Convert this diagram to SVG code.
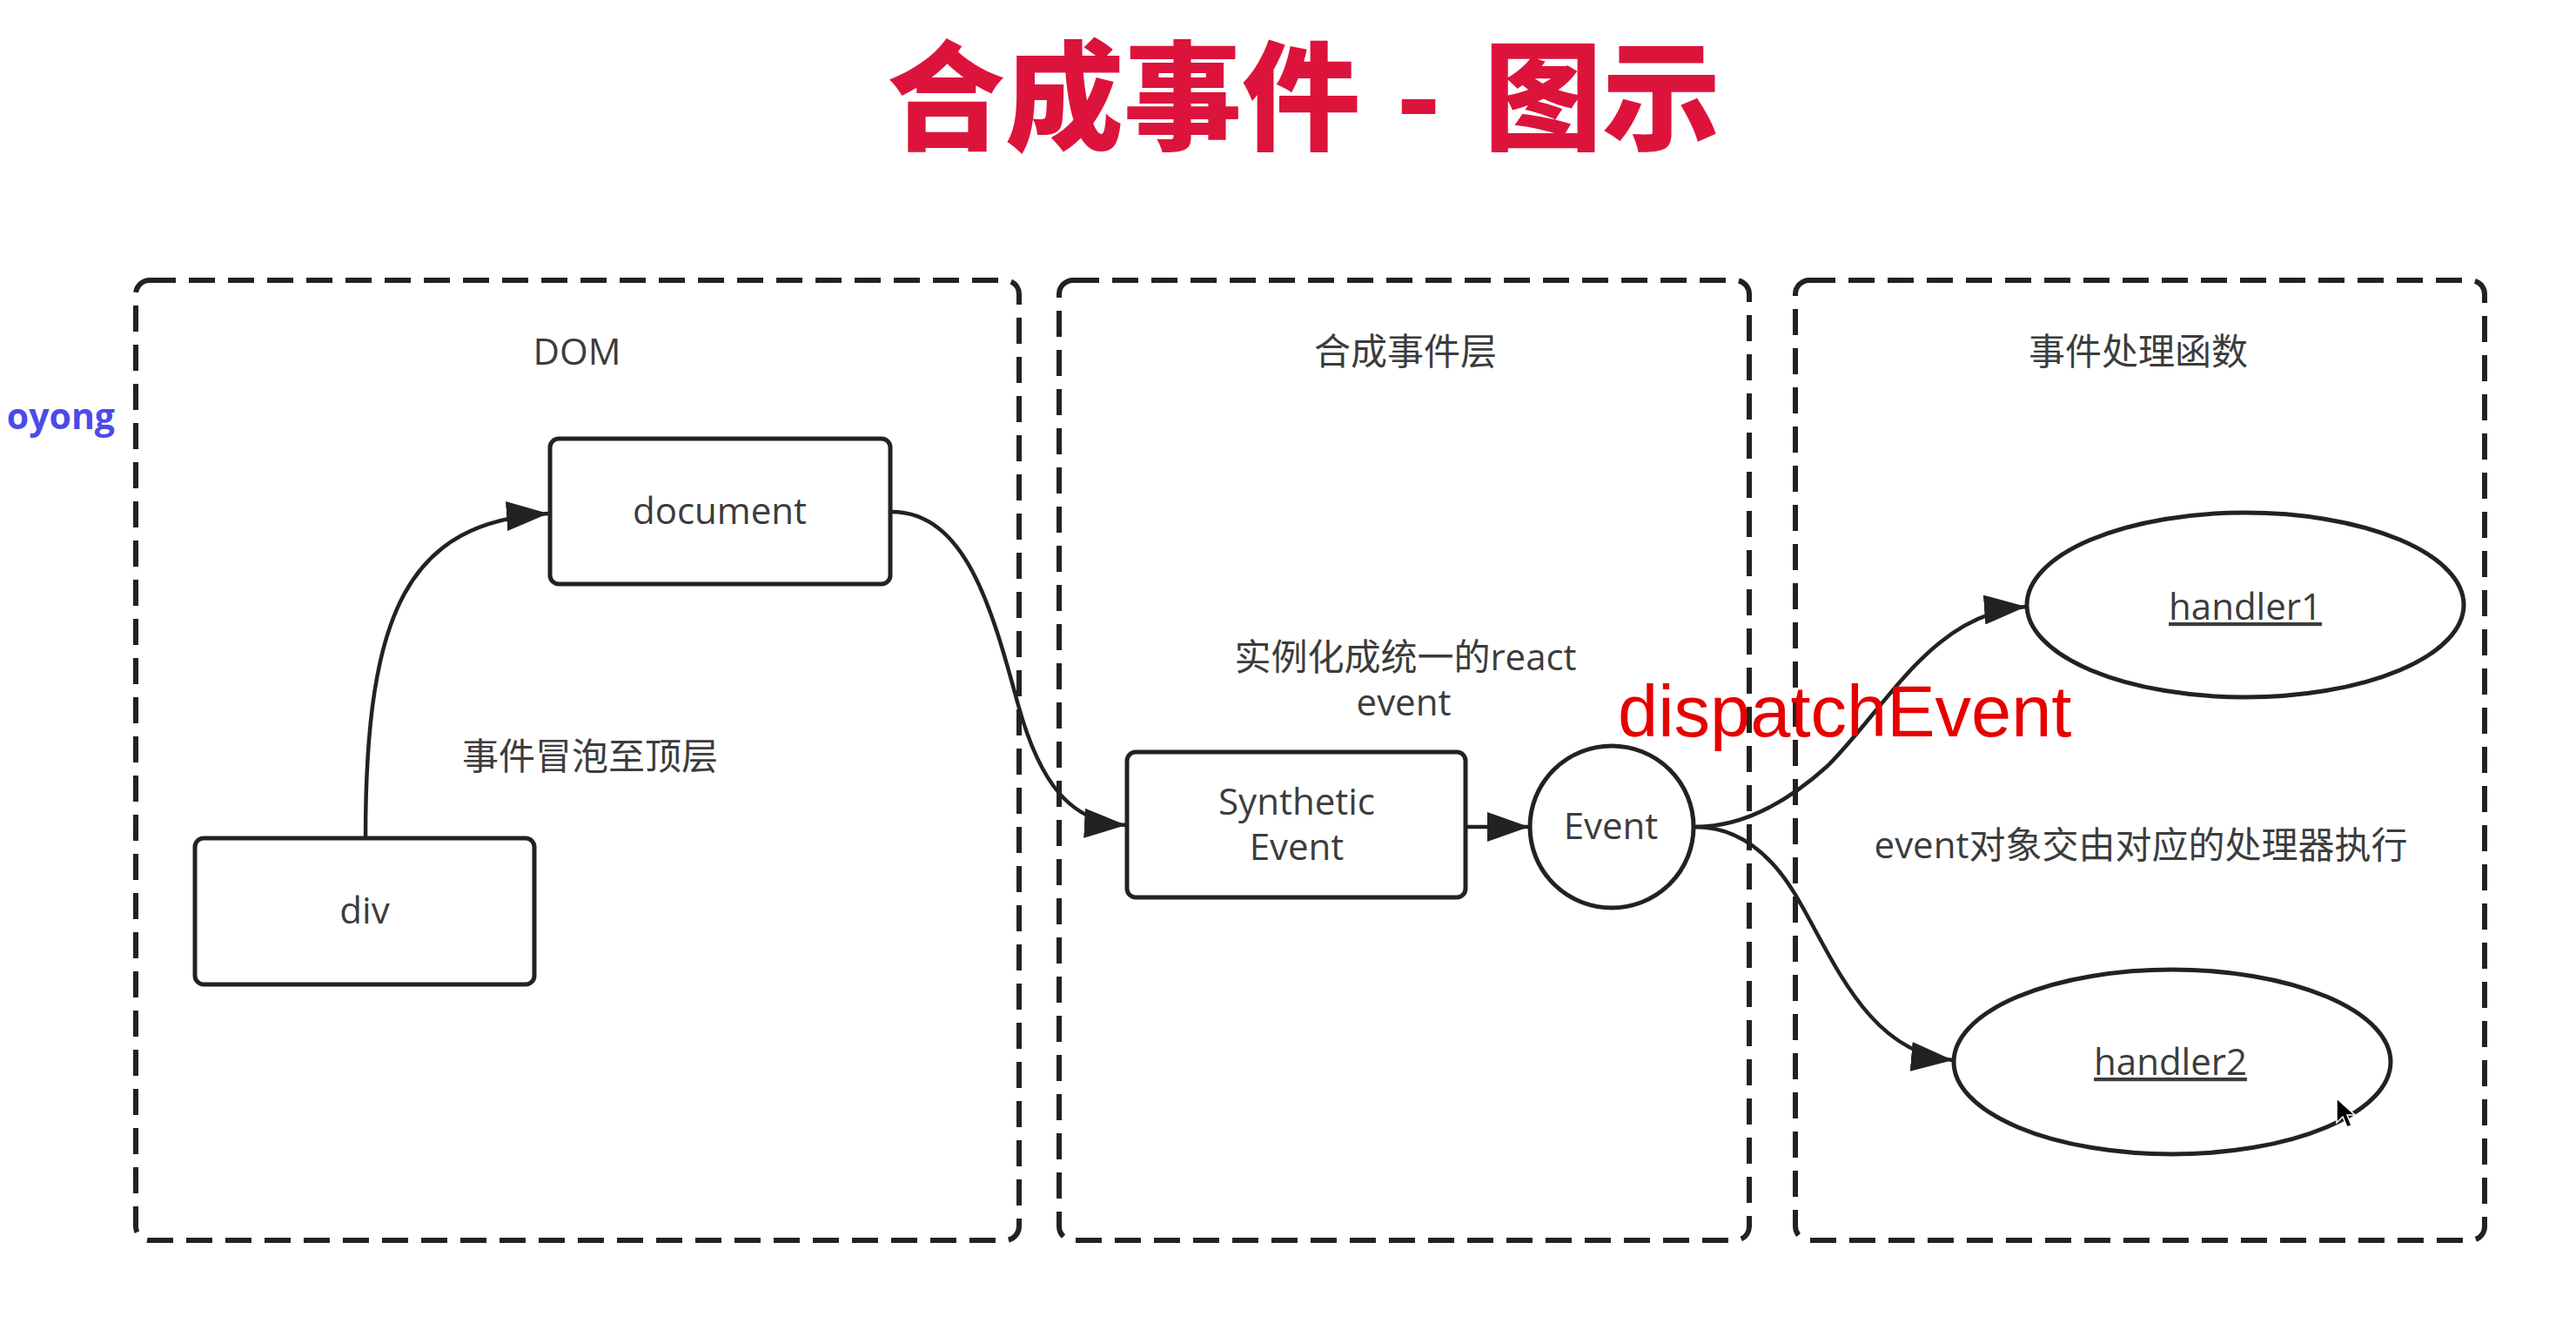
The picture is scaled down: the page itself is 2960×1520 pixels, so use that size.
<svg xmlns="http://www.w3.org/2000/svg" width="2960" height="1520" viewBox="0 0 2960 1520">
<style>
  .lane { fill: none; stroke: #222; stroke-width: 6; stroke-dasharray: 30 15; }
  .node { fill: #fff; stroke: #222; stroke-width: 5; }
  .lbl { font-family: "Open Sans", "Noto Sans CJK SC", sans-serif; font-size: 42px; fill: #3c3c3c; text-anchor: middle; }
  .conn { fill: none; stroke: #222; stroke-width: 4.5; }
  .ttl { font-family: "Noto Sans CJK SC", sans-serif; font-weight: 900; font-size: 136px; fill: #dc143c; }
</style>
<defs>
  <marker id="arr" markerUnits="userSpaceOnUse" markerWidth="48" markerHeight="34" refX="48" refY="17" orient="auto">
    <path d="M0,0 L48,17 L0,34 z" fill="#222"/>
  </marker>
</defs>
<rect width="2960" height="1520" fill="#fff"/>

<text id="title" class="ttl" y="162"><tspan x="1019">合成事件</tspan><tspan x="1630" text-anchor="middle">-</tspan><tspan x="1705">图示</tspan></text>
<text id="watermark" x="132" y="493" font-family="'Open Sans', sans-serif" font-weight="700" font-size="41" fill="#4b4be8" text-anchor="end">oyong</text>

<g id="lanes">
  <g id="lane-dom">
    <rect class="lane" x="156" y="322" width="1015" height="1103" rx="16"/>
    <text class="lbl" x="663" y="419">DOM</text>
  </g>
  <g id="lane-synthetic">
    <rect class="lane" x="1217" y="322" width="793" height="1103" rx="16"/>
    <text class="lbl" x="1615" y="419">合成事件层</text>
  </g>
  <g id="lane-handlers">
    <rect class="lane" x="2063" y="322" width="792" height="1103" rx="16"/>
    <text class="lbl" x="2457" y="419">事件处理函数</text>
  </g>
</g>

<g id="connectors">
  <path class="conn" d="M420,963 C420,700 470,600 630,590" marker-end="url(#arr)"/>
  <path class="conn" d="M1024,588 C1110,588 1140,700 1170,810 C1195,900 1230,945 1294,948" marker-end="url(#arr)"/>
  <path class="conn" d="M1684,950 L1757,950" marker-end="url(#arr)"/>
  <path class="conn" d="M1948,950 C2000,950 2050,925 2100,880 C2170,810 2220,705 2328,697" marker-end="url(#arr)"/>
  <path class="conn" d="M1948,950 C2000,950 2040,985 2070,1040 C2110,1110 2150,1210 2244,1218" marker-end="url(#arr)"/>
</g>

<g id="node-document">
  <rect class="node" x="632" y="504" width="391" height="167" rx="10"/>
  <text class="lbl" x="827" y="602">document</text>
</g>
<g id="node-div">
  <rect class="node" x="224" y="963" width="390" height="168" rx="10"/>
  <text class="lbl" x="419" y="1061">div</text>
</g>
<g id="node-synthetic">
  <rect class="node" x="1295" y="864" width="389" height="167" rx="10"/>
  <text class="lbl" x="1490" y="936">Synthetic</text>
  <text class="lbl" x="1490" y="988">Event</text>
</g>
<g id="node-event">
  <ellipse class="node" cx="1852" cy="950" rx="94" ry="93"/>
  <text class="lbl" x="1851" y="964">Event</text>
</g>
<g id="node-handler1">
  <ellipse class="node" cx="2580" cy="695" rx="251" ry="106"/>
  <text class="lbl" x="2580" y="712" text-decoration="underline">handler1</text>
</g>
<g id="node-handler2">
  <ellipse class="node" cx="2496" cy="1220" rx="251" ry="106"/>
  <text class="lbl" x="2494" y="1235" text-decoration="underline">handler2</text>
</g>

<g id="labels">
  <text class="lbl" x="678" y="884">事件冒泡至顶层</text>
  <text class="lbl" x="1615" y="770">实例化成统一的react</text>
  <text class="lbl" x="1613" y="822">event</text>
  <text x="1859" y="846" font-family="'Liberation Sans', Arial, sans-serif" font-size="83" fill="#e60000">dispatchEvent</text>
  <text class="lbl" x="2460" y="986">event对象交由对应的处理器执行</text>
</g>

<g id="cursor">
  <path d="M2685,1262 L2685,1290 L2692,1283 L2697,1295 L2702,1293 L2697,1281 L2706,1281 Z" fill="#000" stroke="#fff" stroke-width="1.5"/>
</g>
</svg>
